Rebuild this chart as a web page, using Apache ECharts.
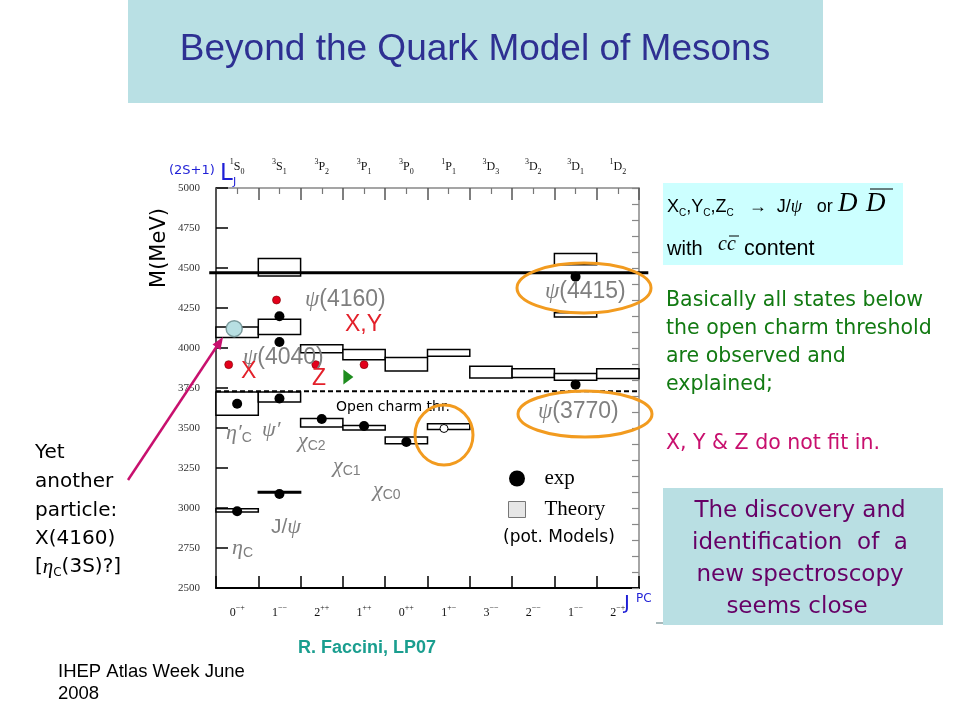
<!DOCTYPE html>
<html><head><meta charset="utf-8">
<script src="https://cdn.jsdelivr.net/npm/echarts@6/dist/echarts.min.js"></script>
<style>html,body{margin:0;padding:0;background:#fff}#c{width:960px;height:720px}</style>
</head><body><div id="c"></div>
<script>
// ---- data ----
const stateLabels = [['1','S','0'],['3','S','1'],['3','P','2'],['3','P','1'],['3','P','0'],['1','P','1'],['3','D','3'],['3','D','2'],['3','D','1'],['1','D','2']];
const jpcLabels = [['0','\u2212+'],['1','\u2212\u2212'],['2','++'],['1','++'],['0','++'],['1','+\u2212'],['3','\u2212\u2212'],['2','\u2212\u2212'],['1','\u2212\u2212'],['2','\u2212+']];
const massMin = 2500, massMax = 5000, massStep = 250, massMinorStep = 100;
// theory (potential model) boxes: [column, low mass, high mass]
const theoryBoxes = [
  [0, 2975, 2996], [0, 3579, 3725], [0, 4065, 4131],
  [1, 3093, 3103], [1, 3663, 3725], [1, 4085, 4179], [1, 4450, 4560],
  [2, 3506, 3559], [2, 3971, 4021],
  [3, 3488, 3515], [3, 3927, 3990],
  [4, 3402, 3444], [4, 3856, 3940],
  [5, 3490, 3527], [5, 3948, 3990],
  [6, 3813, 3886],
  [7, 3815, 3871],
  [8, 3798, 3840], [8, 4194, 4221], [8, 4520, 4590],
  [9, 3810, 3871]
];
// experimental states: [column position, mass]
const expStates = [
  [0.5, 2980], [0.5, 3652],
  [1.5, 3088], [1.5, 3684], [1.5, 4038], [1.5, 4198],
  [2.5, 3556], [3.5, 3513], [4.5, 3413],
  [8.5, 3771], [8.5, 4446]
];
const exoticStates = [[0.3, 3896], [1.43, 4300], [2.36, 3896], [3.5, 3896]];
const hcState = [[5.39, 3497]];
const x4160State = [[0.43, 4121]];
const zState = [[3.13, 3819]];
const openCharmThreshold = 3729;
const upperLineMass = 4471;
const upperLineSpan = [-0.16, 10.22];

// ---- chart ----
const chart = echarts.init(document.getElementById('c'));
const SERIF = 'Liberation Serif';
const SANS = 'Liberation Sans';
const DJ = 'DejaVu Sans';
const colTicks = Array.from({length: 11}, (_, i) => i);
const colCenters = Array.from({length: 10}, (_, i) => i + 0.5);

const labRich = {
  m: {fontFamily: SERIF, fontSize: 12, lineHeight: 18, color: '#111'},
  sup: {fontFamily: SERIF, fontSize: 8, lineHeight: 9, verticalAlign: 'top', color: '#111'},
  sub: {fontFamily: SERIF, fontSize: 8, lineHeight: 9, verticalAlign: 'bottom', color: '#111'}
};

function T(x, y, text, font, fill, extra) {
  return {
    type: 'text', x: x, y: y, z: 50,
    style: Object.assign({text: text, font: font, fill: fill, align: 'left', verticalAlign: 'middle',
      textAlign: 'left', textVerticalAlign: 'middle'}, extra || {})
  };
}
const grayRich = {
  g: {fontFamily: SANS, fontSize: 23, color: '#7f7f7f', lineHeight: 26},
  p: {fontFamily: SERIF, fontStyle: 'italic', fontSize: 23, color: '#7f7f7f', lineHeight: 26},
  s: {fontFamily: SANS, fontSize: 14, color: '#7f7f7f', lineHeight: 14, verticalAlign: 'bottom'}
};
const grayRichSmall = {
  g: {fontFamily: SANS, fontSize: 21, color: '#7f7f7f', lineHeight: 24},
  p: {fontFamily: SERIF, fontStyle: 'italic', fontSize: 22, color: '#7f7f7f', lineHeight: 24},
  s: {fontFamily: SANS, fontSize: 14, color: '#7f7f7f', lineHeight: 14, verticalAlign: 'bottom'}
};
function G(x, y, text, rich) {
  return {type: 'text', x: x, y: y, z: 50, style: {text: text, rich: rich || grayRich, fill: '#7f7f7f', align: 'left', verticalAlign: 'middle', textAlign: 'left', textVerticalAlign: 'middle'}};
}
const red = '#e3202a', blue = '#1f1fd6', green = '#127a12', magenta = '#c8106e', purple = '#660066';

const graphics = [
  {type: 'rect', shape: {x: 128, y: 0, width: 695, height: 103}, style: {fill: '#b9e0e4'}},
  {type: 'text', x: 475, y: 50, style: {text: 'Beyond the Quark Model of Mesons', font: '37px "Liberation Sans"', fill: '#2e3092', align: 'center', verticalAlign: 'middle', textAlign: 'center', textVerticalAlign: 'middle'}},
  // cyan box
  {type: 'rect', shape: {x: 663, y: 183, width: 240, height: 82}, style: {fill: '#ccffff'}},
  {type: 'text', x: 667, y: 207, z: 50, style: {text: '{b|X}{s|C}{b|,Y}{s|C}{b|,Z}{s|C}{b|   \u2192  J/}{p|\u03c8}{b|   or}', rich: {
    b: {fontFamily: SANS, fontSize: 18, lineHeight: 22, color: '#000'},
    s: {fontFamily: SANS, fontSize: 10, lineHeight: 10, verticalAlign: 'bottom', color: '#000'},
    p: {fontFamily: SERIF, fontStyle: 'italic', fontSize: 18, lineHeight: 22, color: '#000'}
  }, align: 'left', verticalAlign: 'middle', textAlign: 'left', textVerticalAlign: 'middle'}},
  T(838, 204, 'D', 'italic 27px "Liberation Serif"', '#000'),
  T(866, 204, 'D', 'italic 27px "Liberation Serif"', '#000'),
  {type: 'line', z: 50, shape: {x1: 870, y1: 189, x2: 893, y2: 189}, style: {stroke: '#000', lineWidth: 1}},
  T(667, 249, 'with', '20px "Liberation Sans"', '#000'),
  T(718, 245, 'cc', 'italic 20px "Liberation Serif"', '#000'),
  {type: 'line', z: 50, shape: {x1: 729, y1: 236, x2: 739, y2: 236}, style: {stroke: '#000', lineWidth: 1}},
  T(744, 249, 'content', '21.5px "Liberation Sans"', '#000'),
  // green text
  T(666, 301, 'Basically all states below', '20.5px "DejaVu Sans"', green),
  T(666, 329, 'the open charm threshold', '20.5px "DejaVu Sans"', green),
  T(666, 357, 'are observed and', '20.5px "DejaVu Sans"', green),
  T(666, 385, 'explained;', '20.5px "DejaVu Sans"', green),
  T(666, 444, 'X, Y & Z do not fit in.', '20.5px "DejaVu Sans"', magenta),
  // purple box
  {type: 'rect', shape: {x: 656, y: 622, width: 8, height: 2}, style: {fill: '#a9b9bb'}},
  {type: 'rect', shape: {x: 663, y: 488, width: 280, height: 137}, style: {fill: '#b9dfe3'}},
  {type: 'text', x: 800, y: 511, z: 50, style: {text: 'The discovery and', font: '23px "DejaVu Sans"', fill: purple, align: 'center', verticalAlign: 'middle', textAlign: 'center', textVerticalAlign: 'middle'}},
  {type: 'text', x: 800, y: 543, z: 50, style: {text: 'identification  of  a', font: '23px "DejaVu Sans"', fill: purple, align: 'center', verticalAlign: 'middle', textAlign: 'center', textVerticalAlign: 'middle'}},
  {type: 'text', x: 800, y: 575, z: 50, style: {text: 'new spectroscopy', font: '23px "DejaVu Sans"', fill: purple, align: 'center', verticalAlign: 'middle', textAlign: 'center', textVerticalAlign: 'middle'}},
  {type: 'text', x: 797, y: 607, z: 50, style: {text: 'seems close', font: '23px "DejaVu Sans"', fill: purple, align: 'center', verticalAlign: 'middle', textAlign: 'center', textVerticalAlign: 'middle'}},
  // left text
  T(35, 453, 'Yet', '20px "DejaVu Sans"', '#000'),
  T(35, 482, 'another', '20px "DejaVu Sans"', '#000'),
  T(35, 511, 'particle:', '20px "DejaVu Sans"', '#000'),
  T(35, 539, 'X(4160)', '20px "DejaVu Sans"', '#000'),
  {type: 'text', x: 35, y: 567, z: 50, style: {text: '{b|[}{e|\u03b7}{s|C}{b|(3S)?]}', rich: {
    b: {fontFamily: DJ, fontSize: 20, lineHeight: 24, color: '#000'},
    e: {fontFamily: SERIF, fontStyle: 'italic', fontSize: 21, lineHeight: 24, color: '#000'},
    s: {fontFamily: DJ, fontSize: 12, lineHeight: 12, verticalAlign: 'bottom', color: '#000'}
  }, align: 'left', verticalAlign: 'middle', textAlign: 'left', textVerticalAlign: 'middle'}},
  // arrow
  {type: 'line', z: 60, shape: {x1: 128, y1: 480, x2: 217, y2: 346}, style: {stroke: magenta, lineWidth: 2.5}},
  {type: 'polygon', z: 60, shape: {points: [[223, 337], [220.5, 350], [212.5, 344.5]]}, style: {fill: magenta}},
  // footer
  T(298, 648, 'R. Faccini, LP07', 'bold 18px "Liberation Sans"', '#1a9e8f'),
  T(58, 672, 'IHEP Atlas Week June', '18.5px "Liberation Sans"', '#000'),
  T(58, 694, '2008', '18.5px "Liberation Sans"', '#000'),
  // axis decorations
  {type: 'text', x: 160, y: 248, z: 50, rotation: Math.PI / 2, style: {text: 'M(MeV)', font: '21px "DejaVu Sans"', fill: '#000', align: 'center', verticalAlign: 'middle', textAlign: 'center', textVerticalAlign: 'middle'}},
  T(169, 171, '(2S+1)', '13px "DejaVu Sans"', blue),
  T(220, 174, 'L', '23px "DejaVu Sans"', blue),
  T(233, 182, 'J', '11px "DejaVu Sans"', blue),
  T(624, 604, 'J', '20px "DejaVu Sans"', blue),
  T(636, 599, 'PC', '12px "DejaVu Sans"', blue),
  // in-plot annotations
  G(305, 300, '{p|\u03c8}{g|(4160)}'),
  G(243, 358, '{p|\u03c8}{g|(4040)}'),
  G(545, 292, '{p|\u03c8}{g|(4415)}'),
  G(538, 412, '{p|\u03c8}{g|(3770)}'),
  G(226, 433, '{p|\u03b7\u2032}{s|C}', grayRichSmall),
  G(262, 430, '{p|\u03c8\u2032}', grayRichSmall),
  G(298, 441, '{p|\u03c7}{s|C2}', grayRichSmall),
  G(333, 466, '{p|\u03c7}{s|C1}', grayRichSmall),
  G(373, 490, '{p|\u03c7}{s|C0}', grayRichSmall),
  G(271, 527, '{g|J/}{p|\u03c8}', grayRichSmall),
  G(232, 548, '{p|\u03b7}{s|C}', grayRichSmall),
  T(345, 325, 'X,Y', '23px "Liberation Sans"', red),
  T(241, 372, 'X', '23px "Liberation Sans"', red),
  T(312, 379, 'Z', '23px "Liberation Sans"', red),
  T(336, 407, 'Open charm thr.', '14px "DejaVu Sans"', '#000'),
  T(503, 538, '(pot. Models)', '17px "DejaVu Sans"', '#000'),
  // orange highlight ellipses
  {type: 'ellipse', z: 70, shape: {cx: 584, cy: 288, rx: 67, ry: 25}, style: {fill: 'none', stroke: '#f29b1f', lineWidth: 3}},
  {type: 'ellipse', z: 70, shape: {cx: 585, cy: 414, rx: 67, ry: 23}, style: {fill: 'none', stroke: '#f29b1f', lineWidth: 3}},
  {type: 'ellipse', z: 70, shape: {cx: 444, cy: 435, rx: 29, ry: 30}, style: {fill: 'none', stroke: '#f29b1f', lineWidth: 3}}
];

function hLine(color, width, dash) {
  return function (params, api) {
    const p0 = api.coord([api.value(0), api.value(2)]);
    const p1 = api.coord([api.value(1), api.value(2)]);
    return {type: 'line', shape: {x1: p0[0], y1: p0[1], x2: p1[0], y2: p1[1]},
            style: {stroke: color, lineWidth: width, lineDash: dash || null}};
  };
}

const option = {
  backgroundColor: '#fff',
  animation: false,
  grid: {left: 216, top: 188, width: 423, height: 400, containLabel: false},
  legend: {
    selectedMode: false, orient: 'vertical', left: 503, top: 463, itemWidth: 17, itemHeight: 16, itemGap: 10,
    textStyle: {fontFamily: SERIF, fontSize: 21, lineHeight: 16, color: '#000', padding: [0, 0, 0, 14]},
    data: [
      {name: 'exp', icon: 'circle', itemStyle: {color: '#000'}},
      {name: 'Theory', icon: 'rect', itemStyle: {color: '#e6e6e6', borderColor: '#777', borderWidth: 1}}
    ]
  },
  xAxis: [
    {type: 'value', position: 'bottom', min: 0, max: 10, interval: 1,
     axisLine: {show: true, onZero: false, lineStyle: {color: '#000', width: 2}},
     axisTick: {show: true, inside: true, length: 12, customValues: colTicks, lineStyle: {color: '#000', width: 1.5}},
     minorTick: {show: false},
     axisLabel: {customValues: colCenters, margin: 16, formatter: v => { const l = jpcLabels[Math.floor(v)]; return '{m|' + l[0] + '}{sup|' + l[1] + '}'; }, rich: labRich},
     splitLine: {show: false}},
    {type: 'value', position: 'top', min: 0, max: 10, interval: 1,
     axisLine: {show: true, onZero: false, lineStyle: {color: '#888', width: 1.5}},
     axisTick: {show: true, inside: true, length: 12, customValues: colTicks, lineStyle: {color: '#555', width: 1.5}},
     minorTick: {show: true, splitNumber: 2, length: 6, lineStyle: {color: '#777', width: 1.2}},
     axisLabel: {customValues: colCenters, margin: 12, formatter: v => { const l = stateLabels[Math.floor(v)]; return '{sup|' + l[0] + '}{m|' + l[1] + '}{sub|' + l[2] + '}'; }, rich: labRich},
     splitLine: {show: false}}
  ],
  yAxis: [
    {type: 'value', position: 'left', min: massMin, max: massMax, interval: massStep,
     axisLine: {show: true, onZero: false, lineStyle: {color: '#555', width: 2}},
     axisTick: {show: true, inside: true, length: 12, lineStyle: {color: '#000', width: 1.5}},
     minorTick: {show: false},
     axisLabel: {fontFamily: SERIF, fontSize: 11, color: '#333', margin: 16, formatter: v => String(v)},
     splitLine: {show: false}},
    {type: 'value', position: 'right', min: massMin, max: massMax, interval: massMinorStep,
     axisLine: {show: true, onZero: false, lineStyle: {color: '#888', width: 1.5}},
     axisTick: {show: true, inside: true, length: 7, lineStyle: {color: '#888', width: 1.2}},
     minorTick: {show: false},
     axisLabel: {show: false}, splitLine: {show: false}}
  ],
  series: [
    {name: 'Theory', type: 'custom', xAxisIndex: 0, yAxisIndex: 0, z: 2, data: theoryBoxes,
     itemStyle: {color: '#e6e6e6'},
     encode: {x: 0, y: [1, 2]},
     renderItem: function (params, api) {
       const c = api.value(0), lo = api.value(1), hi = api.value(2);
       const p0 = api.coord([c, hi]), p1 = api.coord([c + 1, lo]);
       return {type: 'rect', shape: {x: p0[0], y: p0[1], width: p1[0] - p0[0], height: p1[1] - p0[1]},
               style: {fill: '#fff', stroke: '#000', lineWidth: 1.5}};
     }},
    {name: 'threshold', type: 'custom', z: 3, silent: true, clip: false,
     data: [[0, 10, openCharmThreshold]], encode: {x: [0, 1], y: 2},
     renderItem: hLine('#000', 2, [5, 3])},
    {name: 'upper', type: 'custom', z: 3, silent: true, clip: false,
     data: [[upperLineSpan[0], upperLineSpan[1], upperLineMass]], encode: {x: [0, 1], y: 2},
     renderItem: hLine('#000', 3)},
    {name: 'exp', type: 'scatter', z: 5, symbolSize: 10, data: expStates, itemStyle: {color: '#000', opacity: 1}},
    {name: 'exotic', type: 'scatter', z: 5, symbolSize: 8, data: exoticStates, itemStyle: {color: '#e3001b', borderColor: '#700', borderWidth: 0.6, opacity: 1}},
    {name: 'hc', type: 'scatter', z: 5, symbolSize: 8, data: hcState, itemStyle: {color: '#fff', borderColor: '#000', borderWidth: 1, opacity: 1}},
    {name: 'X4160', type: 'scatter', z: 5, symbolSize: 16, data: x4160State, itemStyle: {color: '#b7dfe2', borderColor: '#7a9a9c', borderWidth: 1.5, opacity: 1}},
    {name: 'Z', type: 'scatter', z: 5, symbol: 'triangle', symbolRotate: -90, symbolSize: [15, 10], data: zState, itemStyle: {color: '#1e8c1e', opacity: 1}}
  ],
  graphic: graphics
};
chart.setOption(option);
</script>
</body></html>
